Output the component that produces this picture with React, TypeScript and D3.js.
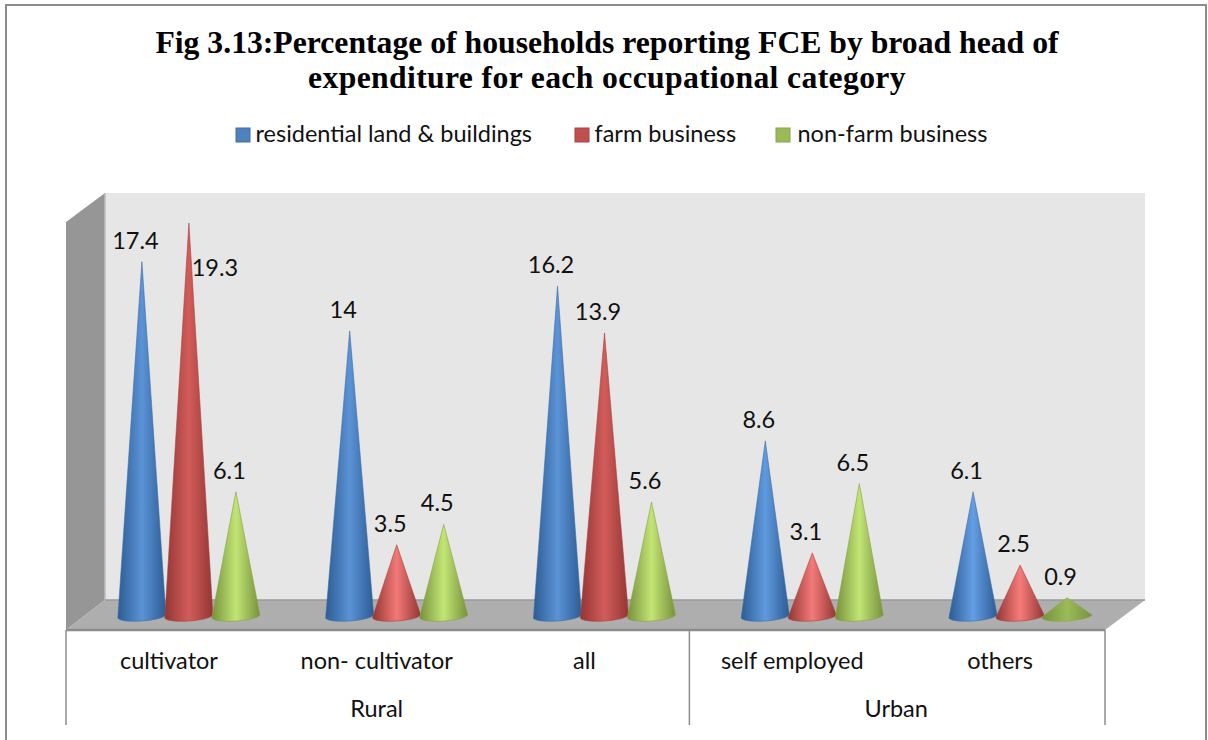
import React from "react";
import * as d3 from "d3";

const categories = ["cultivator", "non- cultivator", "all", "self employed", "others"];
const groups = [
  { name: "Rural", span: 3 },
  { name: "Urban", span: 2 },
];
const seriesNames = ["residential land & buildings", "farm business", "non-farm business"];
const residential = [17.4, 14, 16.2, 8.6, 6.1];
const farm = [19.3, 3.5, 13.9, 3.1, 2.5];
const nonFarm = [6.1, 4.5, 5.6, 6.5, 0.9];
const seriesValues = [residential, farm, nonFarm];
const titleLines = [
  "Fig 3.13:Percentage of households reporting FCE by broad head of",
  "expenditure for each occupational category",
];

// edge, tall-cone centre and short-cone centre for each series
const palette = [
  { edge: "#2c5c94", tall: "#5b93d6", short: "#6eaaf2", stroke: "#3f6fa8", swatch: "#4f81bd" },
  { edge: "#943634", tall: "#d25c5a", short: "#ff8582", stroke: "#a84442", swatch: "#c0504d" },
  { edge: "#76923c", tall: "#bfe070", short: "#c6e878", stroke: "#86a446", swatch: "#9bbb59" },
];

const LABEL_FONT = "Lato, 'Open Sans', sans-serif";
const LABEL_SIZE = 23.5;
const GRID = "#8c8c8c";

const wall = { x0: 105, x1: 1145, top: 193, floor: 600 };
const front = { x0: 66, x1: 1105, top: 222, floor: 630, bottom: 725 };

const y = d3.scaleLinear().domain([0, 19.3]).range([616, 223]);
const axisBand = d3.scaleBand<string>().domain(categories).range([front.x0, front.x1]);
// The cones stand midway across the floor, so their bands sit further right than the axis.
const coneBand = d3.scaleBand<string>().domain(categories).range([85, 1124]);
const seriesX = d3.scaleBand<number>().domain([0, 1, 2]).range([-70.5, 70.5]);

const coneWidth = (v: number) => (v < 1 ? 25 : 24);

function conePath(cx: number, v: number) {
  const hw = coneWidth(v);
  const apex = y(v);
  const p = d3.path();
  p.moveTo(cx, apex);
  p.lineTo(cx + hw, y(0) - 1);
  return `${p.toString()} A ${hw} 5 -4 0 1 ${cx - hw} ${y(0) + 1} Z`;
}

function Cone({ cx, v, s, c }: { cx: number; v: number; s: number; c: number }) {
  const hw = coneWidth(v);
  const id = `cone-${s}-${c}`;
  const t = Math.min(1, v / 12);
  const mid = v < 1 ? palette[s].swatch : d3.interpolateRgb(palette[s].short, palette[s].tall)(t);
  return (
    <g>
      <defs>
        <linearGradient id={id} gradientUnits="userSpaceOnUse" x1={cx - hw} x2={cx + hw} y1={0} y2={0}>
          <stop offset="0" stopColor={palette[s].edge} />
          <stop offset="0.5" stopColor={mid} />
          <stop offset="1" stopColor={palette[s].edge} />
        </linearGradient>
      </defs>
      <path d={conePath(cx, v)} fill={`url(#${id})`} stroke={palette[s].stroke} strokeWidth={0.6} />
    </g>
  );
}

export default function App() {
  let cursor = 0;
  const groupCells = groups.map((g) => {
    const start = cursor;
    cursor += g.span;
    const x0 = axisBand(categories[start])!;
    const x1 = x0 + axisBand.bandwidth() * g.span;
    return { ...g, x0, x1 };
  });

  const legendItems = [
    { swatch: 236, text: 255.5 },
    { swatch: 575, text: 594.5 },
    { swatch: 776, text: 797.5 },
  ];

  return (
    <svg
      width={1208}
      height={740}
      viewBox="0 0 1208 740"
      style={{ position: "absolute", left: 0, top: 0, display: "block", background: "#fff" }}
    >
      <path d="M6 740 V5 H1206 V740" fill="none" stroke={GRID} strokeWidth={2} />

      {titleLines.map((line, i) => (
        <text
          key={line}
          x={607}
          y={53 + i * 35}
          textAnchor="middle"
          fontFamily="'Liberation Serif', serif"
          fontWeight={700}
          fontSize={31.7}
          letterSpacing={i === 1 ? 0.35 : 0}
          fill="#000"
        >
          {line}
        </text>
      ))}

      {seriesNames.map((name, i) => (
        <g key={name}>
          <rect
            x={legendItems[i].swatch}
            y={128}
            width={14}
            height={14}
            fill={palette[i].swatch}
            stroke={palette[i].stroke}
          />
          <text x={legendItems[i].text} y={142} fontFamily={LABEL_FONT} fontSize={LABEL_SIZE} fill="#111">
            {name}
          </text>
        </g>
      ))}

      {/* walls and floor */}
      <rect x={wall.x0} y={wall.top} width={wall.x1 - wall.x0} height={wall.floor - wall.top} fill="#e6e6e6" />
      <polygon
        points={`${front.x0},${front.top} ${wall.x0},${wall.top} ${wall.x0},${wall.floor} ${front.x0},${front.floor}`}
        fill="#969696"
      />
      <line x1={wall.x0} x2={wall.x0} y1={wall.top} y2={wall.floor} stroke="#bdbdbd" strokeWidth={1.5} />
      <polygon
        points={`${wall.x0},${wall.floor} ${wall.x1},${wall.floor} ${front.x1},${front.floor} ${front.x0},${front.floor}`}
        fill="#aeaeae"
      />
      <line x1={wall.x0} x2={wall.x1} y1={wall.floor} y2={wall.floor} stroke="#999" strokeWidth={1.5} />

      {/* axis table */}
      <line x1={front.x0} x2={front.x1} y1={front.floor} y2={front.floor} stroke={GRID} strokeWidth={2.5} />
      {[front.x0, ...groupCells.map((g) => g.x1)].map((x) => (
        <line key={x} x1={x} x2={x} y1={front.floor} y2={front.bottom} stroke={GRID} strokeWidth={1.5} />
      ))}
      {categories.map((c) => (
        <text
          key={c}
          x={axisBand(c)! + axisBand.bandwidth() / 2 - 1}
          y={669}
          textAnchor="middle"
          fontFamily={LABEL_FONT}
          fontSize={LABEL_SIZE}
          fill="#111"
        >
          {c}
        </text>
      ))}
      {groupCells.map((g) => (
        <text
          key={g.name}
          x={(g.x0 + g.x1) / 2 - 1}
          y={717}
          textAnchor="middle"
          fontFamily={LABEL_FONT}
          fontSize={LABEL_SIZE}
          fill="#111"
        >
          {g.name}
        </text>
      ))}

      {/* cones */}
      {categories.map((c, ci) =>
        seriesValues.map((vals, si) => {
          const cx = coneBand(c)! + coneBand.bandwidth() / 2 + seriesX(si)! + seriesX.bandwidth() / 2;
          return <Cone key={`${c}-${si}`} cx={cx} v={vals[ci]} s={si} c={ci} />;
        })
      )}

      {/* value labels; the tallest one sits beside its cone rather than above it */}
      {categories.map((c, ci) =>
        seriesValues.map((vals, si) => {
          const v = vals[ci];
          const cx = coneBand(c)! + coneBand.bandwidth() / 2 + seriesX(si)! + seriesX.bandwidth() / 2;
          const moved = v === d3.max(farm) && si === 1;
          return (
            <text
              key={`${c}-${si}-label`}
              x={cx + (moved ? 26 : -6.5)}
              y={y(v) + (moved ? 53 : -13)}
              textAnchor="middle"
              fontFamily={LABEL_FONT}
              fontSize={LABEL_SIZE}
              fill="#111"
            >
              {v}
            </text>
          );
        })
      )}
    </svg>
  );
}
